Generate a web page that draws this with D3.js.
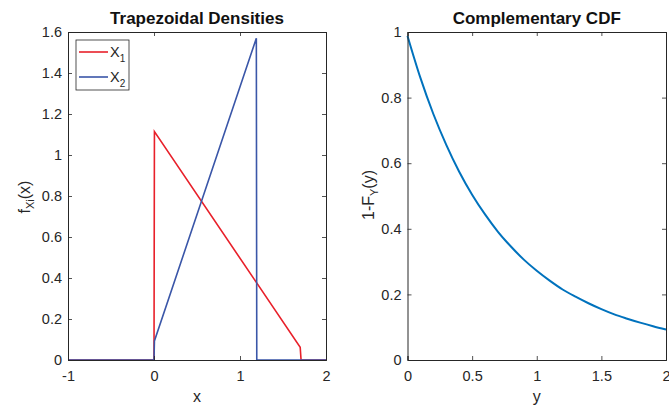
<!DOCTYPE html>
<html>
<head>
<meta charset="utf-8">
<script src="https://cdn.jsdelivr.net/npm/d3@7"></script>
<style>
  body { margin: 0; background: #fff; }
  svg { font-family: "Liberation Sans", Arial, sans-serif; }
</style>
</head>
<body>
<script>
// density of X1 (trapezoid on [0, 1.7])
var x1X = [-1, 0, 0.005, 1.7, 1.71, 2];
var x1Y = [0, 0, 1.114, 0.062, 0, 0];
// density of X2 (trapezoid on [0, 1.19])
var x2X = [-1, 0, 0.005, 1.19, 1.195, 2];
var x2Y = [0, 0, 0.093, 1.569, 0, 0];
// complementary CDF of Y
var ccdfX = [0, 0.1, 0.2, 0.3, 0.4, 0.5, 0.6, 0.7, 0.8, 0.9, 1.0,
             1.1, 1.2, 1.3, 1.4, 1.5, 1.6, 1.7, 1.8, 1.9, 2.0];
var ccdfY = [0.988, 0.860, 0.750, 0.656, 0.574, 0.504, 0.444, 0.391, 0.346, 0.306, 0.272,
             0.242, 0.215, 0.193, 0.173, 0.155, 0.139, 0.126, 0.114, 0.103, 0.093];

var leftXTicks = [-1, 0, 1, 2];
var leftYTicks = [0, 0.2, 0.4, 0.6, 0.8, 1, 1.2, 1.4, 1.6];
var rightXTicks = [0, 0.5, 1, 1.5, 2];
var rightYTicks = [0, 0.2, 0.4, 0.6, 0.8, 1];

var width = 669, height = 408;
var axisColor = '#262626';

var svg = d3.select('body').append('svg')
    .attr('width', width)
    .attr('height', height);

function drawAxes(box, xs, ys, xTicks, yTicks, title) {
    var g = svg.append('g');
    var fmt = function (d) { return String(d); };

    g.append('g')
        .attr('transform', 'translate(0,' + box.bottom + ')')
        .call(d3.axisBottom(xs).tickValues(xTicks).tickSize(-4).tickPadding(11).tickFormat(fmt));
    g.append('g')
        .attr('transform', 'translate(0,' + box.top + ')')
        .call(d3.axisTop(xs).tickValues(xTicks).tickSize(-4).tickFormat(''));
    g.append('g')
        .attr('transform', 'translate(' + box.left + ',0)')
        .call(d3.axisLeft(ys).tickValues(yTicks).tickSize(-4).tickPadding(6).tickFormat(fmt));
    g.append('g')
        .attr('transform', 'translate(' + box.right + ',0)')
        .call(d3.axisRight(ys).tickValues(yTicks).tickSize(-4).tickFormat(''));

    g.selectAll('.domain').attr('stroke', axisColor).attr('stroke-width', 1);
    g.selectAll('.tick line').attr('stroke', axisColor).attr('stroke-width', 0.8);
    g.selectAll('.tick text')
        .attr('fill', axisColor)
        .style('font-size', '14.5px')
        .style('font-family', '"Liberation Sans", Arial, sans-serif');

    svg.append('text')
        .attr('x', (box.left + box.right) / 2)
        .attr('y', 24)
        .attr('text-anchor', 'middle')
        .attr('font-size', '17px')
        .attr('font-weight', 'bold')
        .attr('fill', '#111')
        .text(title);
    return g;
}

// ---- left panel ----
var boxL = { left: 68, right: 326, top: 32, bottom: 360 };
var xL = d3.scaleLinear().domain([-1, 2]).range([boxL.left, boxL.right]);
var yL = d3.scaleLinear().domain([0, 1.6]).range([boxL.bottom, boxL.top]);

var lineL = d3.line()
    .x(function (d) { return xL(d[0]); })
    .y(function (d) { return yL(d[1]); });

svg.append('path')
    .datum(d3.zip(x1X, x1Y))
    .attr('d', lineL)
    .attr('fill', 'none')
    .attr('stroke', '#e8202a')
    .attr('stroke-width', 1.6);

svg.append('path')
    .datum(d3.zip(x2X, x2Y))
    .attr('d', lineL)
    .attr('fill', 'none')
    .attr('stroke', '#3a56a8')
    .attr('stroke-width', 1.6);

drawAxes(boxL, xL, yL, leftXTicks, leftYTicks, 'Trapezoidal Densities');

svg.append('text')
    .attr('x', (boxL.left + boxL.right) / 2)
    .attr('y', 402)
    .attr('text-anchor', 'middle')
    .attr('font-size', '16px')
    .attr('fill', axisColor)
    .text('x');

var ylabL = svg.append('text')
    .attr('transform', 'translate(30,' + 197 + ') rotate(-90)')
    .attr('text-anchor', 'middle')
    .attr('font-size', '16px')
    .attr('fill', axisColor);
ylabL.append('tspan').text('f');
ylabL.append('tspan').attr('font-size', '11px').attr('dy', 4).text('Xi');
ylabL.append('tspan').attr('dy', -4).text('(x)');

// legend
var legend = svg.append('g').attr('transform', 'translate(76,40)');
legend.append('rect')
    .attr('width', 53).attr('height', 50)
    .attr('fill', '#fff')
    .attr('stroke', axisColor)
    .attr('stroke-width', 0.8);
var legItems = [{ name: '1', color: '#e8202a' }, { name: '2', color: '#3a56a8' }];
legItems.forEach(function (it, i) {
    var y = 12 + i * 25;
    legend.append('line')
        .attr('x1', 3).attr('x2', 32).attr('y1', y).attr('y2', y)
        .attr('stroke', it.color).attr('stroke-width', 1.6);
    var t = legend.append('text')
        .attr('x', 34).attr('y', y + 5)
        .attr('font-size', '14.5px')
        .attr('fill', axisColor);
    t.append('tspan').text('X');
    t.append('tspan').attr('font-size', '10px').attr('dy', 5).text(it.name);
});

// ---- right panel ----
var boxR = { left: 407.5, right: 666, top: 32, bottom: 360 };
var xR = d3.scaleLinear().domain([0, 2]).range([boxR.left, boxR.right]);
var yR = d3.scaleLinear().domain([0, 1]).range([boxR.bottom, boxR.top]);

svg.append('path')
    .datum(d3.zip(ccdfX, ccdfY))
    .attr('d', d3.line()
        .curve(d3.curveMonotoneX)
        .x(function (d) { return xR(d[0]); })
        .y(function (d) { return yR(d[1]); }))
    .attr('fill', 'none')
    .attr('stroke', '#0072bd')
    .attr('stroke-width', 2);

drawAxes(boxR, xR, yR, rightXTicks, rightYTicks, 'Complementary CDF');

svg.append('text')
    .attr('x', (boxR.left + boxR.right) / 2)
    .attr('y', 402)
    .attr('text-anchor', 'middle')
    .attr('font-size', '16px')
    .attr('fill', axisColor)
    .text('y');

var ylabR = svg.append('text')
    .attr('transform', 'translate(374,' + 195 + ') rotate(-90)')
    .attr('text-anchor', 'middle')
    .attr('font-size', '16px')
    .attr('fill', axisColor);
ylabR.append('tspan').text('1-F');
ylabR.append('tspan').attr('font-size', '11px').attr('dy', 4).text('Y');
ylabR.append('tspan').attr('dy', -4).text('(y)');
</script>
</body>
</html>
